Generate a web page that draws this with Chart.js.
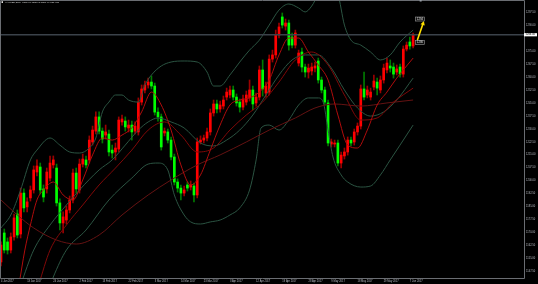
<!DOCTYPE html>
<html>
<head>
<meta charset="utf-8">
<script src="https://cdn.jsdelivr.net/npm/chart.js@4.4.1/dist/chart.umd.min.js"></script>
<style>
html, body { margin: 0; padding: 0; background: #000; }
canvas { display: block; }
</style>
</head>
<body>
<canvas id="myChart" width="538" height="284"></canvas>
<script>
// daily candles, red = up bar, green = down bar
var opens = [1152.9,1169.7,1164.5,1159.8,1167.4,1180.7,1169.1,1192.8,1184.8,1190.0,
  1194.6,1205.0,1207.9,1195.2,1195.2,1201.5,1209.1,1207.3,1187.1,1175.5,
  1177.2,1183.0,1188.8,1204.4,1194.6,1209.6,1212.0,1212.0,1222.4,1228.7,
  1236.9,1228.7,1226.4,1227.0,1217.7,1216.6,1218.3,1234.0,1234.5,1230.5,
  1232.2,1228.7,1228.2,1245.5,1252.5,1255.4,1257.1,1254.8,1239.7,1236.9,
  1227.6,1228.2,1223.5,1213.7,1199.2,1195.7,1192.8,1197.5,1196.3,1196.9,
  1191.7,1222.4,1223.5,1224.7,1228.2,1239.2,1244.4,1241.5,1243.2,1248.4,
  1249.6,1252.5,1248.4,1245.5,1242.6,1245.5,1247.9,1252.5,1245.0,1248.4,
  1264.1,1250.7,1251.3,1270.4,1272.8,1284.3,1294.8,1289.5,1291.3,1283.2,
  1278.5,1268.1,1274.5,1265.8,1262.9,1263.5,1265.2,1269.3,1258.3,1252.5,
  1245.0,1221.2,1221.2,1221.8,1210.2,1214.3,1216.6,1223.5,1222.4,1228.2,
  1231.6,1253.1,1249.6,1248.4,1254.2,1257.1,1252.5,1258.3,1264.1,1266.4,
  1265.8,1262.9,1265.8,1261.7,1276.2,1280.3,1278.0];
var highs = [1164.5,1172.0,1166.8,1169.7,1180.7,1183.0,1195.7,1195.2,1190.0,1196.9,
  1208.5,1212.0,1210.2,1197.5,1207.3,1214.3,1214.3,1209.6,1189.4,1181.9,
  1185.3,1191.1,1206.7,1207.3,1212.5,1215.4,1214.3,1225.9,1231.6,1239.8,
  1239.8,1230.5,1232.2,1229.3,1220.6,1221.8,1236.9,1238.0,1236.9,1235.1,
  1234.5,1234.0,1247.9,1255.4,1257.7,1259.4,1260.6,1256.5,1242.1,1238.6,
  1230.5,1229.9,1225.3,1215.4,1201.0,1197.5,1196.9,1199.2,1199.8,1198.6,
  1224.7,1225.9,1226.4,1230.5,1241.5,1246.7,1246.7,1246.1,1249.0,1253.6,
  1254.8,1254.8,1250.2,1247.3,1249.6,1251.9,1258.3,1254.8,1250.7,1266.4,
  1269.9,1257.1,1272.8,1275.6,1287.2,1291.3,1297.1,1293.6,1293.0,1285.5,
  1287.2,1275.6,1276.8,1267.5,1267.5,1268.1,1268.7,1271.0,1260.0,1254.2,
  1246.7,1224.1,1223.5,1223.5,1216.6,1218.9,1225.3,1225.3,1229.9,1233.4,
  1255.4,1262.9,1254.8,1253.6,1261.2,1259.4,1260.6,1267.5,1271.0,1269.9,
  1268.1,1267.0,1267.5,1278.0,1280.3,1283.2,1285.5];
var lows = [1150.6,1158.1,1157.5,1158.1,1165.6,1166.8,1166.8,1181.9,1181.9,1188.2,
  1192.8,1202.7,1192.3,1187.7,1192.8,1199.8,1207.3,1185.3,1171.4,1169.7,
  1174.9,1181.3,1187.1,1192.8,1192.8,1207.9,1207.3,1210.2,1220.6,1227.0,
  1227.0,1221.8,1224.1,1214.3,1213.1,1212.0,1216.6,1232.2,1228.7,1228.2,
  1223.5,1227.0,1226.4,1243.8,1250.8,1253.6,1253.1,1238.0,1234.5,1217.7,
  1225.9,1221.8,1212.0,1197.5,1193.4,1188.8,1191.1,1194.0,1194.6,1187.7,
  1190.0,1221.2,1221.8,1223.0,1226.4,1237.4,1239.2,1239.7,1241.5,1246.7,
  1247.9,1246.7,1243.2,1239.7,1240.9,1243.8,1246.1,1240.9,1243.2,1246.7,
  1249.0,1248.4,1249.6,1268.7,1271.0,1282.6,1288.4,1287.2,1275.6,1276.8,
  1276.8,1266.4,1262.9,1260.0,1259.4,1261.2,1262.9,1256.5,1250.8,1243.8,
  1220.1,1219.5,1219.5,1208.5,1207.3,1212.5,1214.8,1220.1,1220.6,1226.4,
  1229.9,1246.7,1247.9,1246.7,1252.5,1249.6,1250.8,1256.5,1262.4,1262.9,
  1259.4,1261.2,1260.0,1260.0,1275.1,1276.2,1276.8];
var closes = [1162.7,1159.8,1159.8,1167.4,1178.4,1168.5,1192.8,1184.2,1187.7,1194.6,
  1206.2,1208.5,1194.6,1190.5,1205.0,1210.2,1212.0,1187.1,1175.5,1179.0,
  1183.0,1188.8,1204.4,1195.2,1209.6,1212.5,1209.1,1223.5,1229.3,1236.9,
  1228.7,1224.1,1228.2,1216.6,1216.0,1218.9,1235.1,1235.7,1231.1,1232.2,
  1228.2,1231.6,1245.5,1253.1,1255.4,1257.1,1254.8,1239.7,1236.9,1219.5,
  1228.7,1223.5,1213.7,1199.2,1195.7,1192.8,1194.6,1195.7,1197.5,1191.7,
  1222.4,1223.5,1224.7,1228.2,1239.2,1244.4,1241.5,1243.8,1246.7,1251.3,
  1252.5,1248.4,1245.0,1242.6,1247.3,1249.6,1252.5,1244.4,1248.4,1264.1,
  1253.1,1254.8,1270.4,1272.8,1284.3,1289.0,1290.1,1291.3,1278.5,1278.5,
  1285.5,1273.9,1265.8,1262.9,1265.2,1265.8,1266.4,1258.3,1252.5,1245.5,
  1221.8,1222.4,1221.8,1210.2,1214.8,1216.6,1223.5,1221.8,1228.2,1231.6,
  1253.1,1248.4,1252.5,1251.3,1257.7,1253.6,1258.3,1265.2,1268.1,1265.2,
  1261.7,1264.7,1261.7,1276.2,1278.5,1278.0,1284.5];

// bollinger bands (at some bars)
var ubIdx = [0,3,6,9,11,15,18,21,24,27,29,31,33,35,37,39,42,44,46,49,52,56,60,63,65,67,70,73,76,79,82,85,88,91,93,95,97,100,103,105,107,110,113,116,119,122,126];
var ubVal = [1172.6,1180.1,1194.6,1212.0,1217.7,1224.7,1220.6,1216.6,1216.0,1218.9,1224.7,1239.8,1245.5,1249.6,1249.6,1246.7,1245.5,1255.4,1261.2,1266.4,1268.7,1269.3,1268.7,1262.9,1254.8,1254.8,1261.2,1268.7,1275.6,1281.4,1290.1,1298.8,1302.3,1300.0,1297.7,1301.1,1307.5,1311.5,1307.5,1290.1,1281.4,1278.5,1274.5,1269.9,1272.8,1280.3,1287.2];
var mbIdx = [6,10,15,20,24,30,34,38,42,45,48,52,56,61,65,69,73,77,81,85,89,93,97,101,105,109,113,117,121,126];
var mbVal = [1139.6,1159.8,1174.3,1185.9,1194.6,1206.2,1212.0,1220.6,1229.3,1234.0,1236.3,1234.0,1230.5,1221.8,1220.1,1223.5,1229.3,1238.0,1249.6,1261.2,1269.9,1272.8,1272.8,1265.2,1252.5,1242.1,1237.4,1239.8,1246.7,1259.4];
var lbIdx = [14,16,20,26,33,40,45,48,51,53,56,58,61,64,67,70,73,76,78,79.5,82,85,88,91,94,97,98.5,100,101.5,104,106,110,113,116,119,122,126];
var lbVal = [1133.8,1144.2,1159.8,1171.4,1188.8,1201.5,1209.6,1210.2,1206.2,1191.7,1180.1,1176.1,1174.9,1176.1,1177.2,1180.1,1184.2,1194.6,1212.0,1230.5,1232.2,1229.3,1235.1,1243.8,1247.9,1247.9,1245.5,1229.3,1213.7,1203.3,1199.2,1196.3,1196.9,1203.3,1212.0,1220.6,1232.2];

// moving averages
var ma1Idx = [5.5,7.3,9,11,13,16,19,22,25,28,31,34,37,40,43,46,49,52,55,58,61,64,67,70,73,76,79,82,85,88,91,94,97,100,103,106,109,112,115,118,121,124,126];
var ma1Val = [1139.6,1159.8,1174.3,1188.8,1194.6,1199.2,1191.7,1188.8,1200.4,1214.9,1224.7,1223.5,1226.4,1230.5,1239.8,1251.3,1243.8,1229.3,1209.1,1197.5,1203.3,1217.7,1232.2,1243.8,1246.7,1247.9,1251.3,1258.3,1272.8,1282.6,1282.6,1274.5,1267.0,1258.3,1238.0,1220.6,1218.9,1229.3,1243.8,1251.3,1259.4,1266.4,1271.0];
var ma2Idx = [11.5,15,20,25,30,35,40,45,50,55,60,65,70,75,80,85,90,95,100,105,110,115,120,126];
var ma2Val = [1139.6,1159.8,1174.3,1185.9,1197.5,1207.3,1217.7,1229.3,1234.0,1226.4,1216.6,1218.9,1229.3,1238.0,1245.5,1257.1,1269.9,1274.5,1267.0,1249.6,1235.1,1236.3,1245.5,1253.6];
var ma3Idx = [0,5,10,17,23,30,37,45,52,60,67,75,82,90,96,102,110,118,126];
var ma3Val = [1188.8,1180.1,1172.6,1165.6,1163.3,1168.5,1180.1,1191.7,1200.4,1209.1,1214.9,1222.4,1229.3,1236.3,1242.1,1244.4,1243.2,1245.0,1246.7];

// axis labels
var dateIdx = [0,8,16,24,31,39,47,55,62,70,78,86,94,101,109,117,125];
var dateText = ['4 Jan 2017','13 Jan 2017','24 Jan 2017','2 Feb 2017','13 Feb 2017','22 Feb 2017',
  '3 Mar 2017','14 Mar 2017','23 Mar 2017','3 Apr 2017','12 Apr 2017','19 Apr 2017',
  '28 Apr 2017','9 May 2017','18 May 2017','29 May 2017','7 Jun 2017'];
var priceTicks = [1147.5,1155,1162.5,1170,1177.5,1185,1192.5,1200,1207.5,1215,1222.5,1230,
  1237.5,1245,1252.5,1260,1267.5,1275,1290,1297.5];

// yellow arrow and its two labels
var arrowIdx = [127.3, 129.1];
var arrowVal = [1281.4, 1291.3];
var targetText = ['1294', '1280'];
var targetVal = [1293.6, 1280.0];

var lastPrice = closes[closes.length - 1];

function points(xs, ys) {
    var out = [];
    for (var i = 0; i < xs.length; i++) out.push({ x: xs[i], y: ys[i] });
    return out;
}

var wicks = [], bodies = [], wickCol = [], bodyCol = [];
for (var i = 0; i < opens.length; i++) {
    var up = closes[i] >= opens[i];
    wicks.push({ x: i, y: [lows[i], highs[i]] });
    bodies.push({ x: i, y: [opens[i], closes[i]] });
    wickCol.push(up ? '#9a0000' : '#007a00');
    bodyCol.push(up ? '#ff0000' : '#00ff00');
}

function lineSet(data, color, width) {
    return {
        type: 'line', data: data, borderColor: color, borderWidth: width || 1,
        pointRadius: 0, cubicInterpolationMode: 'monotone', fill: false
    };
}

var chartFrame = {
    id: 'chartFrame',
    beforeDraw: function (chart) {
        var ctx = chart.ctx;
        ctx.save();
        ctx.fillStyle = '#000';
        ctx.fillRect(0, 0, chart.width, chart.height);
        ctx.restore();
    },
    afterDraw: function (chart) {
        var ctx = chart.ctx, a = chart.chartArea;
        var xs = chart.scales.x, ys = chart.scales.y;
        ctx.save();
        // frame
        ctx.strokeStyle = '#6a6d72';
        ctx.lineWidth = 1;
        ctx.beginPath();
        ctx.moveTo(0.5, a.bottom + 0.5);
        ctx.lineTo(0.5, 0.5);
        ctx.lineTo(a.right + 0.5, 0.5);
        ctx.lineTo(a.right + 0.5, a.bottom + 0.5);
        ctx.lineTo(0.5, a.bottom + 0.5);
        ctx.stroke();

        // price scale on the right
        ctx.fillStyle = '#b8bcc4';
        ctx.font = '2.6px Arial';
        ctx.textAlign = 'left';
        ctx.textBaseline = 'middle';
        priceTicks.forEach(function (v) {
            ctx.fillText(v.toFixed(2), a.right + 2, ys.getPixelForValue(v));
        });

        // date scale at the bottom
        ctx.textBaseline = 'top';
        dateIdx.forEach(function (v, k) {
            ctx.fillText(dateText[k], xs.getPixelForValue(v), a.bottom + 2);
        });

        // current price label
        var py = ys.getPixelForValue(lastPrice);
        ctx.fillStyle = '#ffffff';
        ctx.fillRect(a.right, py - 1.6, 13, 3.2);
        ctx.fillStyle = '#000';
        ctx.textBaseline = 'middle';
        ctx.fillText(lastPrice.toFixed(2), a.right + 1.5, py);

        // arrow head
        var x1 = xs.getPixelForValue(arrowIdx[0]), y1 = ys.getPixelForValue(arrowVal[0]);
        var x2 = xs.getPixelForValue(arrowIdx[1]), y2 = ys.getPixelForValue(arrowVal[1]);
        var ang = Math.atan2(y2 - y1, x2 - x1);
        ctx.fillStyle = '#ffe000';
        ctx.beginPath();
        ctx.moveTo(x2 + Math.cos(ang) * 2, y2 + Math.sin(ang) * 2);
        ctx.lineTo(x2 + Math.cos(ang + 2.3) * 3, y2 + Math.sin(ang + 2.3) * 3);
        ctx.lineTo(x2 + Math.cos(ang - 2.3) * 3, y2 + Math.sin(ang - 2.3) * 3);
        ctx.closePath();
        ctx.fill();

        // target labels
        ctx.font = '2.8px Arial';
        ctx.textAlign = 'center';
        for (var k = 0; k < targetText.length; k++) {
            var tx = xs.getPixelForValue(128.1), ty = ys.getPixelForValue(targetVal[k]);
            ctx.fillStyle = '#111';
            ctx.fillRect(tx - 4.5, ty - 2, 9, 4);
            ctx.strokeStyle = '#9a9a9a';
            ctx.lineWidth = 0.6;
            ctx.strokeRect(tx - 4.5, ty - 2, 9, 4);
            ctx.fillStyle = '#e0e0e0';
            ctx.fillText(targetText[k], tx, ty + 0.2);
        }

        // shift marker on the top border
        ctx.fillStyle = '#9aa0a8';
        ctx.fillRect(xs.getPixelForValue(128.3) - 1, 0, 2, 1.5);

        // symbol line in the corner
        ctx.fillStyle = '#dcdcdc';
        ctx.fillRect(1.5, 1.2, 1.5, 1.8);
        ctx.textAlign = 'left';
        ctx.font = '2.4px Arial';
        ctx.fillText('XAUUSD,Daily  1281.67 1285.93 1280.41 1284.53', 5, 2.4);
        ctx.restore();
    }
};

var ctx = document.getElementById('myChart').getContext('2d');
var myChart = new Chart(ctx, {
    type: 'line',
    data: {
        datasets: [
            lineSet(points(arrowIdx, arrowVal), '#ffe000', 1.6),
            lineSet([{ x: -0.3, y: lastPrice }, { x: 159.9, y: lastPrice }], '#3b424a', 1.5),
            lineSet(points(ma1Idx, ma1Val), '#b00c0c'),
            lineSet(points(ma2Idx, ma2Val), '#800808'),
            lineSet(points(ma3Idx, ma3Val), '#651212'),
            lineSet(points(ubIdx, ubVal), '#2b5442'),
            lineSet(points(mbIdx, mbVal), '#2b5442'),
            lineSet(points(lbIdx, lbVal), '#2b5442'),
            {
                type: 'bar', data: bodies, backgroundColor: bodyCol, borderWidth: 0,
                barThickness: 2, minBarLength: 1, grouped: false
            },
            {
                type: 'bar', data: wicks, backgroundColor: wickCol, borderWidth: 0,
                barThickness: 1, grouped: false
            }
        ]
    },
    options: {
        responsive: false,
        animation: false,
        events: [],
        layout: { autoPadding: false, padding: { left: 0, top: 0, right: 14, bottom: 6 } },
        plugins: { legend: { display: false }, tooltip: { enabled: false } },
        scales: {
            x: { type: 'linear', display: false, offset: false, min: -0.3, max: 159.9 },
            y: { type: 'linear', display: false, offset: false, min: 1143.62, max: 1304.62 }
        }
    },
    plugins: [chartFrame]
});
</script>
</body>
</html>
